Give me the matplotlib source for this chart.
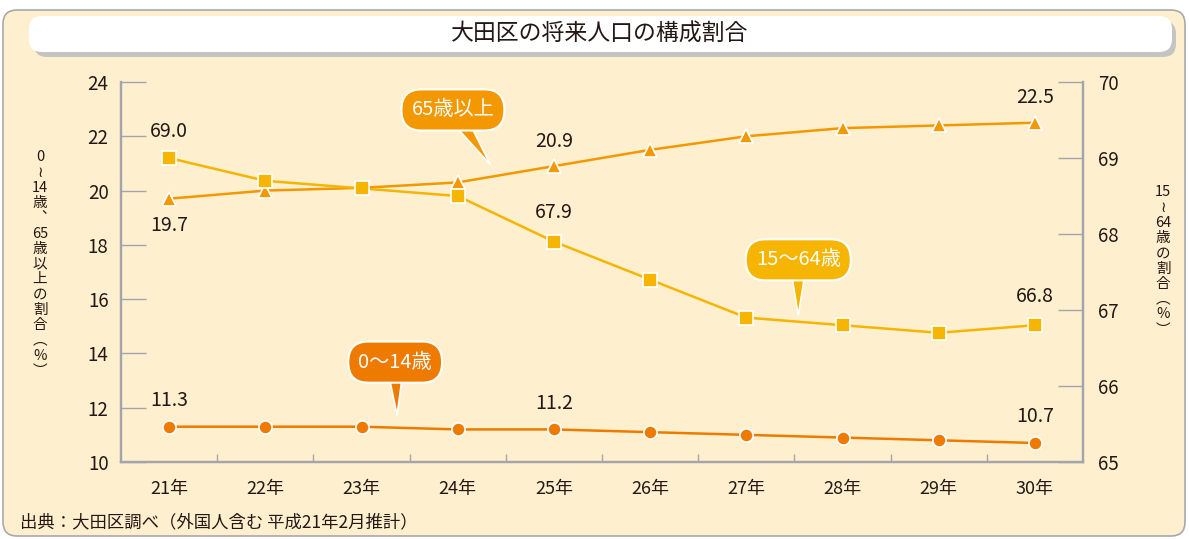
import numpy as np
import matplotlib
matplotlib.use('Agg')
import matplotlib.pyplot as plt
from matplotlib.patches import FancyBboxPatch

plt.rcParams['font.family'] = ['Noto Sans CJK JP', 'DejaVu Sans']

years = ['21年', '22年', '23年', '24年', '25年', '26年', '27年', '28年', '29年', '30年']
age_0_14 = [11.3, 11.3, 11.3, 11.2, 11.2, 11.1, 11.0, 10.9, 10.8, 10.7]
age_15_64 = [69.0, 68.7, 68.6, 68.5, 67.9, 67.4, 66.9, 66.8, 66.7, 66.8]
age_65 = [19.7, 20.0, 20.1, 20.3, 20.9, 21.5, 22.0, 22.3, 22.4, 22.5]

c_young = '#EE7A00'
c_work = '#F6B500'
c_old = '#F39800'
bg = '#FEF0CE'
txt = '#231815'
gray = '#A4A4AC'

W, H = 1189, 539
fig = plt.figure(figsize=(W / 100, H / 100), dpi=100)
fig.patch.set_facecolor('white')

# background frame + title banner (pixel coords)
bgax = fig.add_axes([0, 0, 1, 1], zorder=-5)
bgax.set_xlim(0, W)
bgax.set_ylim(H, 0)
bgax.axis('off')
bgax.add_patch(FancyBboxPatch((3, 10), 1182, 526, boxstyle='round,pad=0,rounding_size=14',
                              fc=bg, ec='#A9A9A9', lw=1.2))
bgax.add_patch(FancyBboxPatch((34, 21), 1142, 36, boxstyle='round,pad=0,rounding_size=13',
                              fc='#C4C4C4', ec='none'))
bgax.add_patch(FancyBboxPatch((29, 16), 1143, 36, boxstyle='round,pad=0,rounding_size=13',
                              fc='white', ec='none'))
bgax.text(600, 34, '大田区の将来人口の構成割合', ha='center', va='center', fontsize=16.5, color=txt)
bgax.text(20, 522, '出典：大田区調べ（外国人含む 平成21年2月推計）', ha='left', va='center',
          fontsize=12.5, color=txt)


def vtext(x, y0, tokens, step, size=10.5):
    # stack characters vertically
    y = y0
    for t in tokens:
        fam = ['DejaVu Sans'] if t == '≀' else ['Noto Sans CJK JP', 'DejaVu Sans']
        bgax.text(x, y, t, ha='center', va='center', fontsize=size, color=txt, family=fam)
        y += step


vtext(40, 157, ['0', '≀', '14', '歳', '︑', '65', '歳', '以', '上', 'の', '割', '合', '︵', '%', '︶'], 15.3)
vtext(1163, 192, ['15', '≀', '64', '歳', 'の', '割', '合', '︵', '%', '︶'], 15.3)

ax = fig.add_axes([121 / W, 1 - 462 / H, (1083 - 121) / W, (462 - 82) / H])
ax.patch.set_alpha(0)
ax2 = ax.twinx()

x = np.arange(len(years))

ax.plot(x, age_0_14, color=c_young, lw=1.8, marker='o', ms=9.5, mec='white', mew=1.2, zorder=3)
ax.plot(x, age_65, color=c_old, lw=1.8, marker='^', ms=10.5, mec='white', mew=1.2, zorder=4)
ax2.plot(x, age_15_64, color=c_work, lw=1.8, marker='s', ms=10, mec='white', mew=1.2, zorder=3)

ax.set_xlim(-0.5, len(years) - 0.5)
ax.set_ylim(10, 24)
ax2.set_ylim(65, 70)
ax.set_yticks(np.arange(10, 25, 2))
ax2.set_yticks(np.arange(65, 71, 1))
ax.set_xticks(x, years)
ax.set_xticks(x[:-1] + 0.5, minor=True)

for a in (ax, ax2):
    for s in a.spines.values():
        s.set_color(gray)
        s.set_linewidth(1.6)
    a.spines['top'].set_visible(False)
ax.tick_params(axis='y', direction='in', length=18, width=1, color=gray, pad=9,
               labelsize=13.5, labelcolor=txt)
ax2.tick_params(axis='y', direction='in', length=18, width=1, color=gray, pad=11,
                labelsize=13.5, labelcolor=txt)
ax.tick_params(axis='x', which='major', length=0, pad=13, labelsize=13, labelcolor=txt)
ax.tick_params(axis='x', which='minor', direction='in', length=6, width=1, color=gray)

# value labels
lab = dict(ha='center', va='center', fontsize=14, color=txt, textcoords='offset points')
for i in (0, 4, 9):
    ax.annotate(f'{age_0_14[i]:.1f}', (x[i], age_0_14[i]), xytext=(0, 19), **lab)
for i in (4, 9):
    ax.annotate(f'{age_65[i]:.1f}', (x[i], age_65[i]), xytext=(0, 18), **lab)
ax.annotate(f'{age_65[0]:.1f}', (x[0], age_65[0]), xytext=(0, -19), **lab)
for i in (0, 4, 9):
    ax2.annotate(f'{age_15_64[i]:.1f}', (x[i], age_15_64[i]), xytext=(0, 19 if i == 0 else 21), **lab)


def callout(a, text, tip, box, color):
    a.annotate(text, xy=tip, xytext=box, ha='center', va='center', fontsize=14.5, color='white',
               bbox=dict(boxstyle='round,pad=0.5,rounding_size=1.0', fc=color, ec='white', lw=1.5),
               arrowprops=dict(arrowstyle='wedge,tail_width=0.9', fc=color, ec='white', lw=1.2,
                               patchA=None, shrinkA=0, shrinkB=0),
               zorder=6)


callout(ax, '65歳以上', (3.34, 20.95), (2.95, 22.97), c_old)
callout(ax2, '15～64歳', (6.54, 66.93), (6.54, 67.66), c_work)
callout(ax, '0～14歳', (2.37, 11.73), (2.35, 13.68), c_young)

fig.savefig('out.png', dpi=100)
